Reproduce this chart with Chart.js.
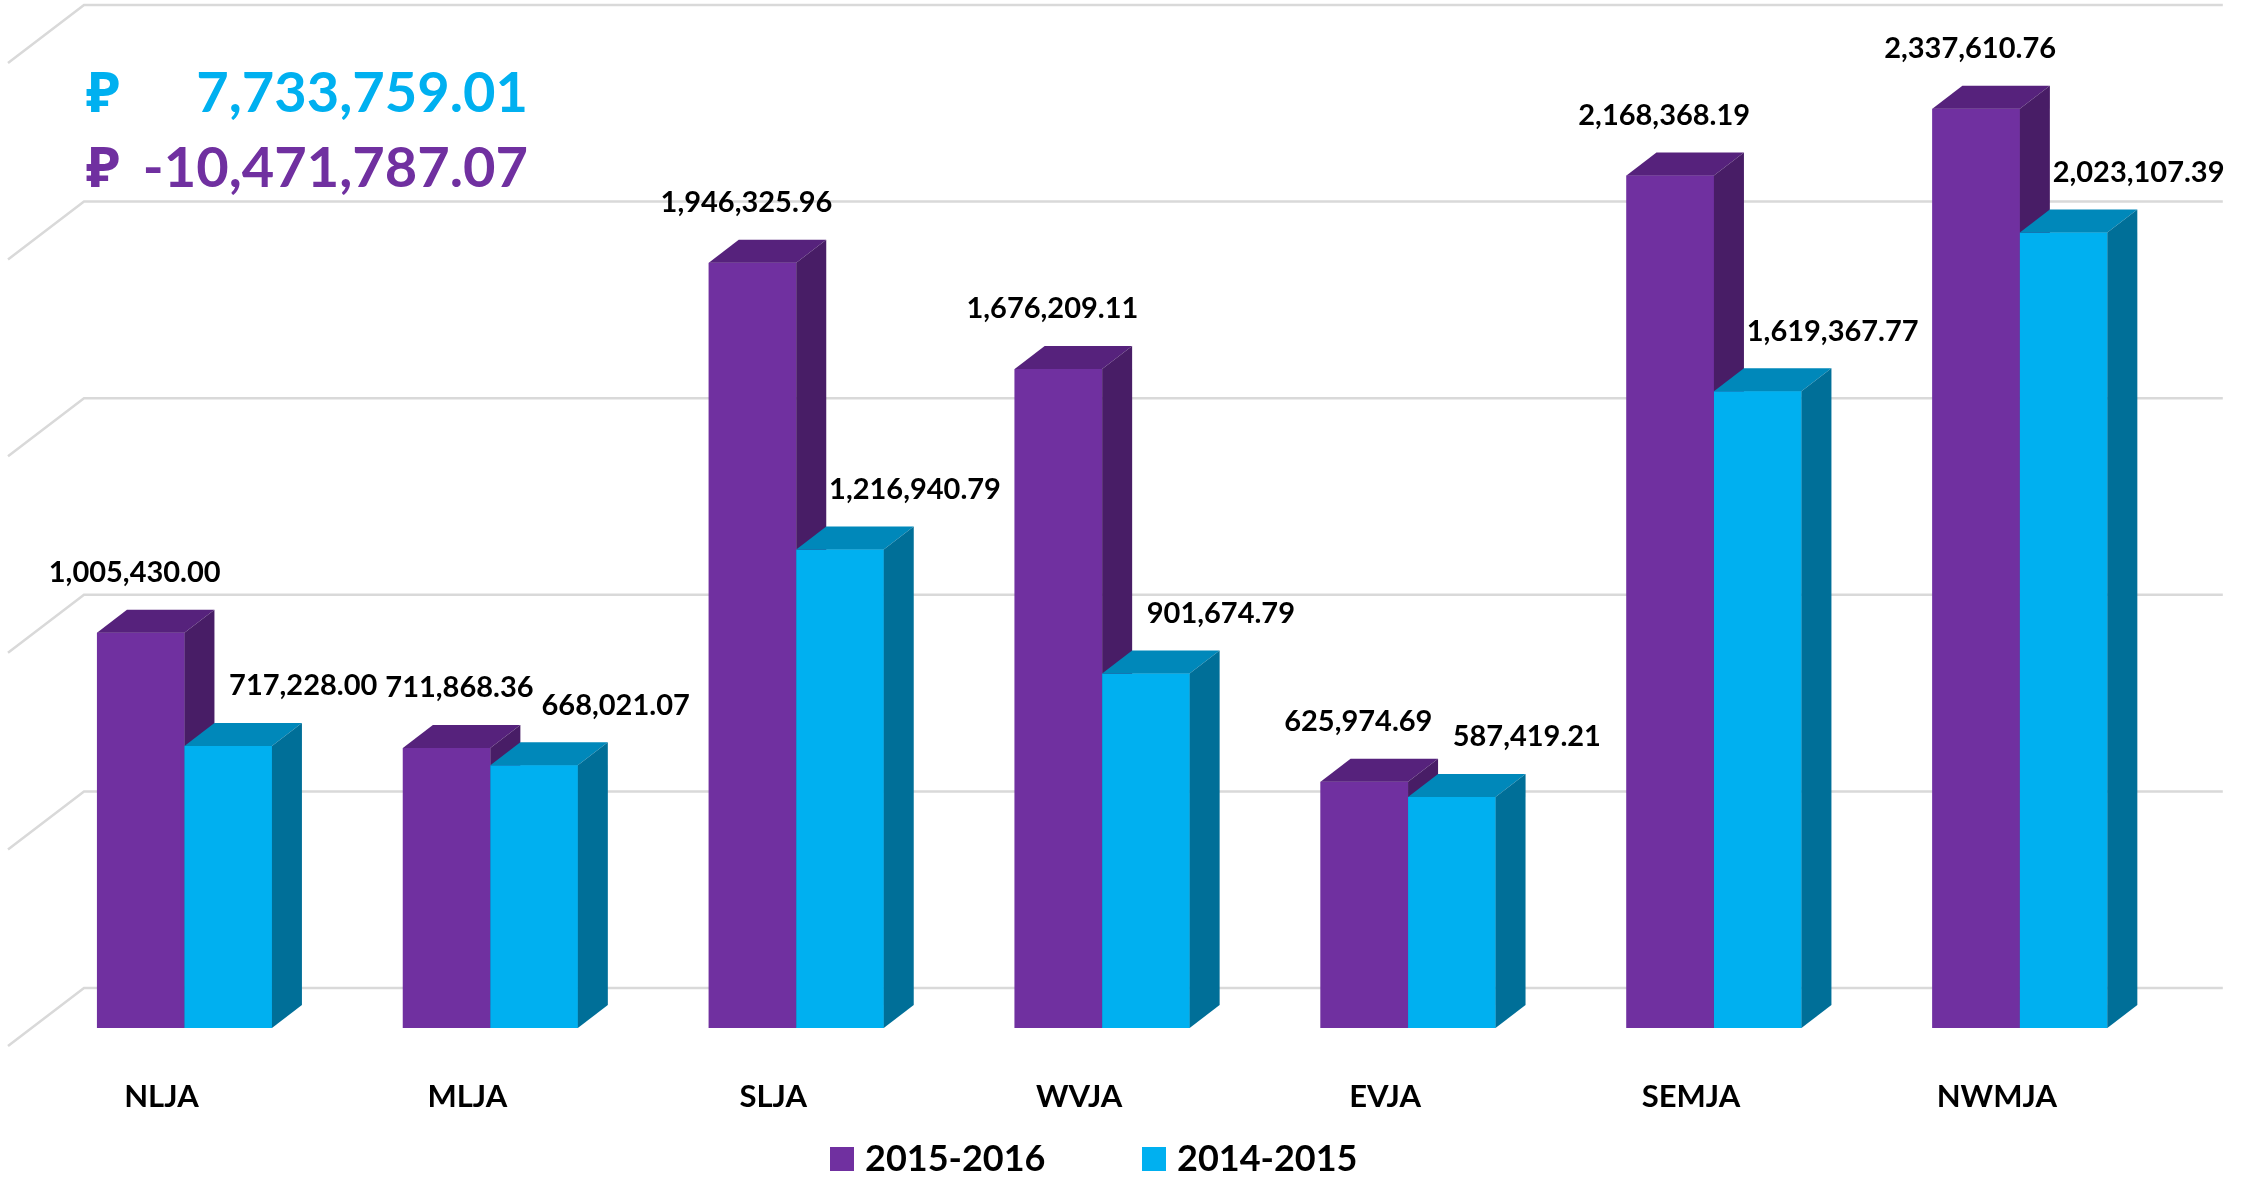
<!DOCTYPE html>
<html>
<head>
<meta charset="utf-8">
<script src="https://cdn.jsdelivr.net/npm/chart.js@4/dist/chart.umd.min.js"></script>
<style>
  html, body { margin: 0; padding: 0; background: #ffffff; }
  #wrap { width: 2259px; height: 1177px; }
</style>
</head>
<body>
<div id="wrap"><canvas id="chart" width="2259" height="1177"></canvas></div>
<script>
// data
const categories = ['NLJA', 'MLJA', 'SLJA', 'WVJA', 'EVJA', 'SEMJA', 'NWMJA'];
const seriesNames = ['2015-2016', '2014-2015'];
const values2016 = [1005430.00, 711868.36, 1946325.96, 1676209.11, 625974.69, 2168368.19, 2337610.76];
const values2015 = [717228.00, 668021.07, 1216940.79, 901674.79, 587419.21, 1619367.77, 2023107.39];
const totalTexts = ['7,733,759.01', '-10,471,787.07'];
const yMin = 0;
const yMax = 2500000;
const yStep = 500000;

const colors = {
  purple: { front: '#7030A0', top: '#56227C', side: '#481D66' },
  cyan: { front: '#00B0F0', top: '#0088BA', side: '#006F98' },
  grid: '#D9D9D9',
  text: '#000000'
};
const FONT = 'Lato, "Noto Sans", "DejaVu Sans", sans-serif';

// 3d depth of a bar, and of the chart "walls"
const BAR_DX = 30, BAR_DY = 23;
const WALL_BACK_DX = 52.5, WALL_BACK_DY = 40;
const WALL_FRONT_DX = 23.5, WALL_FRONT_DY = 18;

const fmt = v => v.toLocaleString('en-US', { minimumFractionDigits: 2, maximumFractionDigits: 2 });

// perspective gridlines, drawn from the y scale ticks
const gridPlugin = {
  id: 'grid3d',
  beforeDatasetsDraw(chart) {
    const { ctx, chartArea, scales: { y } } = chart;
    ctx.save();
    ctx.strokeStyle = colors.grid;
    ctx.lineWidth = 2.5;
    y.ticks.forEach(t => {
      const py = y.getPixelForValue(t.value);
      ctx.beginPath();
      ctx.moveTo(chartArea.left - WALL_FRONT_DX, py + WALL_FRONT_DY);
      ctx.lineTo(chartArea.left + WALL_BACK_DX, py - WALL_BACK_DY);
      ctx.lineTo(chartArea.right + 50, py - WALL_BACK_DY);
      ctx.stroke();
    });
    ctx.restore();
  }
};

// redraw each bar in series order with its top and side faces,
// so a right-hand bar hides the side of the bar next to it
const bar3dPlugin = {
  id: 'bar3d',
  afterDatasetsDraw(chart) {
    const { ctx } = chart;
    ctx.save();
    chart.data.datasets.forEach((ds, i) => {
      chart.getDatasetMeta(i).data.forEach(bar => {
        bar.draw(ctx);
        const { x, y, base, width } = bar.getProps(['x', 'y', 'base', 'width'], true);
        const l = x - width / 2, r = x + width / 2;
        ctx.fillStyle = ds.topColor;
        ctx.beginPath();
        ctx.moveTo(l, y);
        ctx.lineTo(r, y);
        ctx.lineTo(r + BAR_DX, y - BAR_DY);
        ctx.lineTo(l + BAR_DX, y - BAR_DY);
        ctx.closePath();
        ctx.fill();
        ctx.fillStyle = ds.sideColor;
        ctx.beginPath();
        ctx.moveTo(r, y);
        ctx.lineTo(r + BAR_DX, y - BAR_DY);
        ctx.lineTo(r + BAR_DX, base - BAR_DY);
        ctx.lineTo(r, base);
        ctx.closePath();
        ctx.fill();
      });
    });
    ctx.restore();
  }
};

// value labels, totals box and legend
const textPlugin = {
  id: 'texts',
  afterDraw(chart) {
    const { ctx } = chart;
    ctx.save();
    ctx.fillStyle = colors.text;
    ctx.font = 'bold 29px ' + FONT;
    ctx.textAlign = 'center';
    ctx.textBaseline = 'middle';
    // place labels category by category, nudging right when one would hit the previous
    const placed = [];
    categories.forEach((c, j) => {
      chart.data.datasets.forEach((ds, i) => {
        const bar = chart.getDatasetMeta(i).data[j];
        const { x, y } = bar.getProps(['x', 'y'], true);
        const text = fmt(ds.data[j]);
        const w = ctx.measureText(text).width;
        let cx = x + ds.labelDx;
        const cy = y - 60;
        placed.forEach(p => {
          if (Math.abs(p.cy - cy) < 34 && cx - w / 2 < p.cx + p.w / 2 + 8 && cx > p.cx) {
            cx = p.cx + p.w / 2 + 8 + w / 2;
          }
        });
        placed.push({ cx, cy, w });
        ctx.fillText(text, cx, cy);
      });
    });

    // totals top-left
    ctx.font = 'bold 56px ' + FONT;
    ctx.textBaseline = 'alphabetic';
    const totalColors = [colors.cyan.front, colors.purple.front];
    totalTexts.forEach((t, i) => {
      const by = 112 + i * 75;
      ctx.fillStyle = totalColors[i];
      ctx.textAlign = 'left';
      ctx.fillText('\u20BD', 86, by);
      ctx.textAlign = 'right';
      ctx.fillText(t, 528, by);
    });

    // legend
    ctx.font = 'bold 36px ' + FONT;
    ctx.textAlign = 'left';
    const legendX = [830, 1142];
    chart.data.datasets.forEach((ds, i) => {
      ctx.fillStyle = ds.backgroundColor;
      ctx.fillRect(legendX[i], 1147, 24, 24);
      ctx.fillStyle = colors.text;
      ctx.fillText(ds.label, legendX[i] + 35, 1171);
    });
    ctx.restore();
  }
};

new Chart(document.getElementById('chart'), {
  type: 'bar',
  data: {
    labels: categories,
    datasets: [
      {
        label: seriesNames[0],
        data: values2016,
        backgroundColor: colors.purple.front,
        topColor: colors.purple.top,
        sideColor: colors.purple.side,
        labelDx: -6,
        borderWidth: 0
      },
      {
        label: seriesNames[1],
        data: values2015,
        backgroundColor: colors.cyan.front,
        topColor: colors.cyan.top,
        sideColor: colors.cyan.side,
        labelDx: 75,
        borderWidth: 0
      }
    ]
  },
  options: {
    responsive: false,
    animation: false,
    categoryPercentage: 0.572,
    barPercentage: 1.0,
    layout: { padding: { left: 31.5, right: 86.2, top: 45, bottom: 0 } },
    plugins: {
      legend: { display: false },
      tooltip: { enabled: false },
      title: { display: false }
    },
    scales: {
      x: {
        grid: { display: false, drawTicks: false },
        border: { display: false },
        ticks: {
          color: colors.text,
          font: { family: FONT, size: 31, weight: 'bold' },
          labelOffset: -23,
          padding: 50,
          maxRotation: 0
        },
        afterFit: axis => { axis.height = 149; }
      },
      y: {
        display: false,
        min: yMin,
        max: yMax,
        ticks: { stepSize: yStep }
      }
    }
  },
  plugins: [gridPlugin, bar3dPlugin, textPlugin]
});
</script>
</body>
</html>
